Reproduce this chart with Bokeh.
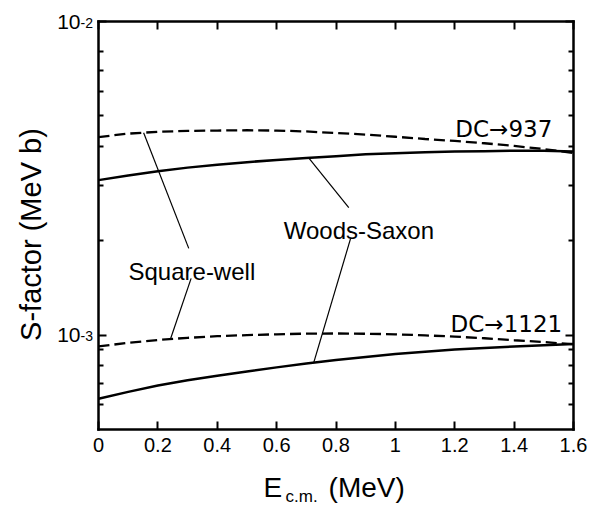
import math
import numpy as np
from bokeh.plotting import figure
from bokeh.models import FixedTicker, LinearAxis, LogAxis, Label, ColumnDataSource, Range1d
from bokeh.core.properties import value
from bokeh.embed import file_html
from bokeh.resources import INLINE

# ---- data ----
energy = [0.0, 0.1, 0.2, 0.3, 0.4, 0.5, 0.6, 0.7, 0.8, 0.9, 1.0, 1.1, 1.2, 1.3, 1.4, 1.5, 1.6]
# DC -> 937, square-well (dashed) and Woods-Saxon (solid)
sw_937 = [4.28e-3, 4.39e-3, 4.45e-3, 4.48e-3, 4.49e-3, 4.50e-3, 4.49e-3, 4.46e-3, 4.41e-3,
          4.36e-3, 4.29e-3, 4.22e-3, 4.16e-3, 4.09e-3, 4.01e-3, 3.92e-3, 3.81e-3]
ws_937 = [3.12e-3, 3.23e-3, 3.33e-3, 3.42e-3, 3.49e-3, 3.56e-3, 3.62e-3, 3.67e-3, 3.72e-3,
          3.77e-3, 3.80e-3, 3.83e-3, 3.85e-3, 3.86e-3, 3.87e-3, 3.87e-3, 3.85e-3]
# DC -> 1121
sw_1121 = [9.20e-4, 9.45e-4, 9.65e-4, 9.80e-4, 9.92e-4, 1.000e-3, 1.006e-3, 1.011e-3, 1.012e-3,
           1.010e-3, 1.006e-3, 9.98e-4, 9.89e-4, 9.77e-4, 9.63e-4, 9.50e-4, 9.35e-4]
ws_1121 = [6.27e-4, 6.59e-4, 6.91e-4, 7.18e-4, 7.42e-4, 7.65e-4, 7.89e-4, 8.12e-4, 8.33e-4,
           8.52e-4, 8.70e-4, 8.85e-4, 9.00e-4, 9.10e-4, 9.20e-4, 9.28e-4, 9.36e-4]

x_ticks = [0.0, 0.2, 0.4, 0.6, 0.8, 1.0, 1.2, 1.4, 1.6]
x_tick_labels = ["0", "0.2", "0.4", "0.6", "0.8", "1", "1.2", "1.4", "1.6"]
y_major = [1e-3, 1e-2]
y_major_base = ["10", "10"]
y_major_exp = ["-3", "-2"]
y_minor = [6e-4, 7e-4, 8e-4, 9e-4, 2e-3, 3e-3, 4e-3, 5e-3, 6e-3, 7e-3, 8e-3]

y_title = "S-factor  (MeV b)"
x_title_parts = ["E", "c.m.", "(MeV)"]

# curve annotations
note_text = ["Square-well", "Woods-Saxon"]
note_x = [0.101, 0.624]
note_y = [1.59e-3, 2.16e-3]
dc_text = ["DC\u2192937", "DC\u21921121"]
dc_x = [1.202, 1.186]
dc_y = [4.55e-3, 1.081e-3]
# leader lines: start on a curve, end near a label
leader_curve = ["sw_937", "sw_1121", "ws_937", "ws_1121"]
leader_x0 = [0.152, 0.2425, 0.708, 0.725]
leader_x1 = [0.304, 0.312, 0.843, 0.849]
leader_y1 = [1.89e-3, 1.516e-3, 2.55e-3, 2.03e-3]

FONT = "Liberation Sans"

curves = {"sw_937": sw_937, "ws_937": ws_937, "sw_1121": sw_1121, "ws_1121": ws_1121}
leader_y0 = [float(np.interp(x, energy, curves[c])) for x, c in zip(leader_x0, leader_curve)]

# ---- layout: the plotting area fills the canvas; axes sit at fixed data locations ----
W, H = 605, 508
f_left, f_right, f_top, f_bottom = 98, 573, 21, 429
x_lo, x_hi = 0.0, 1.6
y_lo, y_hi = 5e-4, 1e-2
ppx = (f_right - f_left) / (x_hi - x_lo)
ppd = (f_bottom - f_top) / (math.log10(y_hi) - math.log10(y_lo))
xr = Range1d(x_lo - f_left / ppx, x_hi + (W - f_right) / ppx)
yr = Range1d(10 ** (math.log10(y_lo) - (H - f_bottom) / ppd), 10 ** (math.log10(y_hi) + f_top / ppd))

p = figure(width=W, height=H, x_range=xr, y_range=yr, y_axis_type="log",
           output_backend="svg", toolbar_location=None, min_border=0)
p.title.visible = False
p.grid.visible = False
p.outline_line_color = None
p.background_fill_color = "white"
p.border_fill_color = "white"

src = ColumnDataSource(dict(e=energy, sw937=sw_937, ws937=ws_937, sw1121=sw_1121, ws1121=ws_1121))
p.line("e", "sw937", source=src, line_color="black", line_width=2.3, line_dash="11 5")
p.line("e", "ws937", source=src, line_color="black", line_width=2.5)
p.line("e", "sw1121", source=src, line_color="black", line_width=2.3, line_dash="11 5")
p.line("e", "ws1121", source=src, line_color="black", line_width=2.5)

p.segment(x0=leader_x0, y0=leader_y0, x1=leader_x1, y1=leader_y1, line_color="black", line_width=1.2)

p.text(x=note_x, y=note_y, text=note_text, text_font=value(FONT), text_font_size="24px",
       text_align="left", text_baseline="alphabetic", text_color="black")
p.text(x=dc_x, y=dc_y, text=dc_text, text_font=value("DejaVu Sans"), text_font_size="23px",
       text_align="left", text_baseline="alphabetic", text_color="black")


def style(ax, ticks, labels, loc, bounds):
    ax.fixed_location = loc
    ax.bounds = bounds
    ax.axis_line_width = 2.5
    ax.axis_line_color = "black"
    ax.axis_line_cap = "square"
    ax.major_tick_in = 8
    ax.major_tick_out = 0
    ax.major_tick_line_width = 2
    ax.minor_tick_in = 5
    ax.minor_tick_out = 0
    ax.minor_tick_line_width = 2
    ax.major_label_text_font = FONT
    ax.major_label_text_color = "black"
    ax.major_label_text_font_size = "20px"
    ax.major_label_standoff = 8
    ax.major_label_overrides = {v: s for v, s in zip(ticks, labels)}


blank_x = ["" for _ in x_ticks]
blank_y = ["" for _ in y_major]
p.xaxis.ticker = FixedTicker(ticks=x_ticks)
p.yaxis.ticker = FixedTicker(ticks=y_major, minor_ticks=y_minor)
style(p.xaxis[0], x_ticks, x_tick_labels, y_lo, (x_lo, x_hi))
style(p.yaxis[0], y_major, blank_y, x_lo, (y_lo, y_hi))

top = LinearAxis(ticker=FixedTicker(ticks=x_ticks))
style(top, x_ticks, blank_x, y_hi, (x_lo, x_hi))
p.add_layout(top, "above")
right = LogAxis(ticker=FixedTicker(ticks=y_major, minor_ticks=y_minor))
style(right, y_major, blank_y, x_hi, (y_lo, y_hi))
p.add_layout(right, "right")

# y tick labels: 10 with a raised exponent
for yv, b, ex in zip(y_major, y_major_base, y_major_exp):
    p.add_layout(Label(x=x_lo, y=yv, x_offset=-18, text=b, text_align="right",
                       text_baseline="middle", text_font=FONT, text_font_size="21px",
                       text_color="black"))
    p.add_layout(Label(x=x_lo, y=yv, x_offset=-18, y_offset=-1, text=ex, text_align="left",
                       text_baseline="alphabetic", text_font=FONT, text_font_size="14px",
                       text_color="black"))

# axis titles
ymid = math.sqrt(y_lo * y_hi)
p.add_layout(Label(x=x_lo, y=ymid, x_offset=-68, y_offset=-5, angle=math.pi / 2,
                   text=y_title, text_align="center", text_baseline="middle",
                   text_font=FONT, text_font_size="29px", text_color="black"))
title_x = [0.556, 0.630, 0.775]
title_dy = [-58, -67, -58]
title_size = ["28px", "17px", "28px"]
for t, tx, dy, sz in zip(x_title_parts, title_x, title_dy, title_size):
    p.add_layout(Label(x=tx, y=y_lo, y_offset=dy, text=t, text_align="left",
                       text_baseline="alphabetic", text_font=FONT, text_font_size=sz,
                       text_color="black"))

open("out.html", "w").write(file_html(p, INLINE))
